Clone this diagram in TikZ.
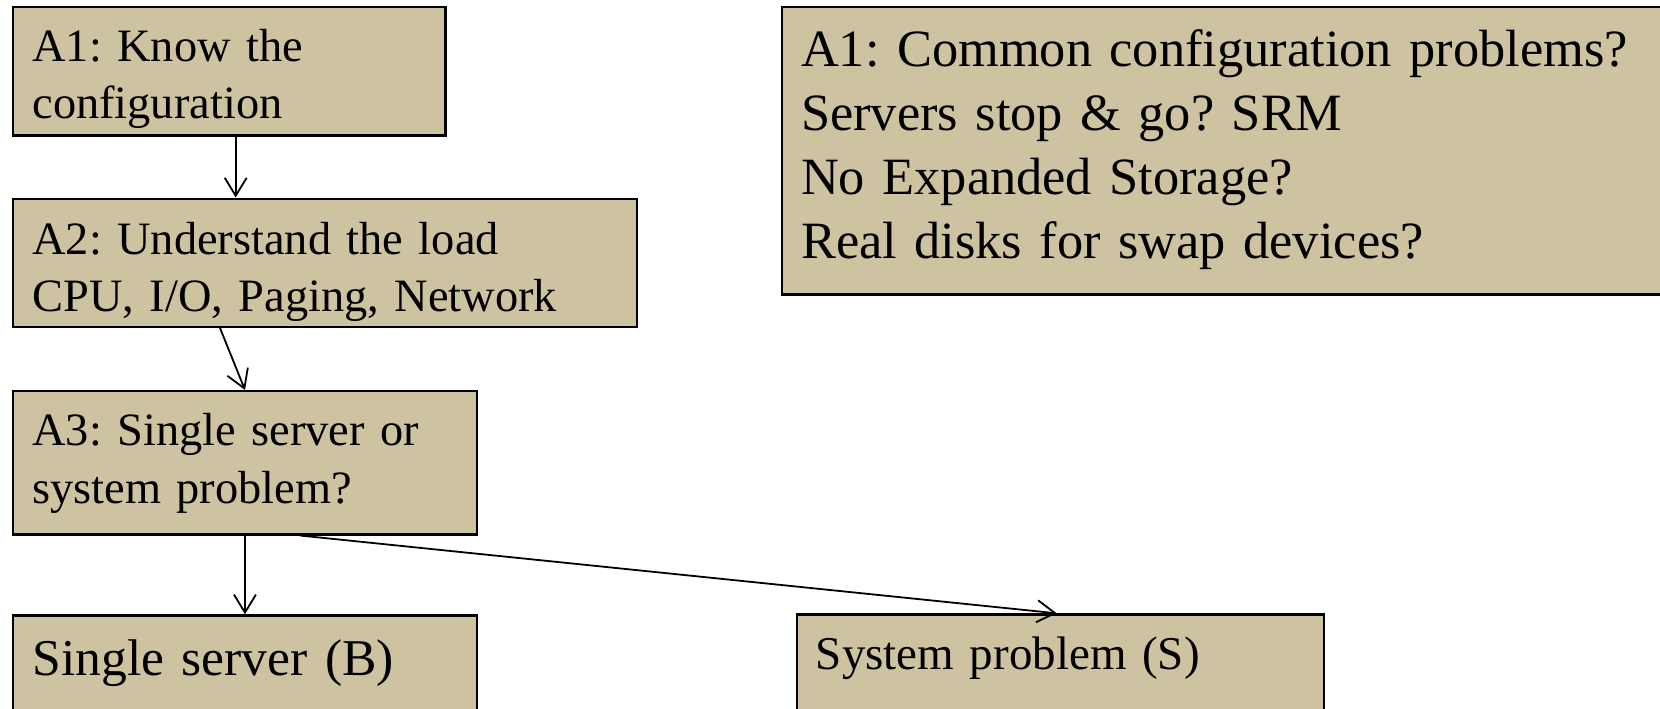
\documentclass[tikz,border=0pt]{standalone}
\usepackage{fontspec}
\setmainfont{Liberation Serif}
\usetikzlibrary{arrows.meta,calc}
\definecolor{tanfill}{RGB}{205,195,161}
\frenchspacing
\tikzset{
  box/.style={draw=black, line width=1.1pt, fill=tanfill, rectangle, inner sep=0pt, anchor=north west},
  txt/.style={inner sep=0pt, anchor=base west, align=left, text width=#1},
  arr/.style={draw=black, line width=0.9pt, -{Straight Barb[length=9pt,width=11pt]}},
}
\begin{document}
\frenchspacing
\begin{tikzpicture}[x=0.5pt,y=-0.5pt]
\useasboundingbox (0,0) rectangle (1660,708);
% boxes
\node[box, minimum width=432.6*0.5pt, minimum height=128.6*0.5pt] (a1) at (11.7,5.7) {};
\node[box, minimum width=623.9*0.5pt, minimum height=128.3*0.5pt] (a2) at (11.7,197.5) {};
\node[box, minimum width=464.3*0.5pt, minimum height=143.3*0.5pt] (a3) at (11.7,390) {};
\node[box, minimum width=464.3*0.5pt, minimum height=130*0.5pt] (b) at (11.7,614.3) {};
\node[box, minimum width=527.2*0.5pt, minimum height=130*0.5pt] (s) at (795.7,613.3) {};
\node[box, minimum width=900*0.5pt, minimum height=287.6*0.5pt] (r) at (781,5.7) {};
% texts
\node[txt=400pt, font=\fontsize{23.2pt}{28.3pt}\selectfont] (t1) at (32,61.7) {A1: Know the\\configuration};
\node[txt=400pt, font=\fontsize{23.2pt}{28.85pt}\selectfont] (t2) at (32,254) {A2: Understand the load\\CPU, I/O, Paging, Network};
\node[txt=400pt, font=\fontsize{23.2pt}{29pt}\selectfont] (t3) at (32,445) {A3: Single server or\\system problem?};
\node[txt=400pt, font=\fontsize{25.8pt}{32pt}\selectfont] (tb) at (32.3,675) {Single server (B)};
\node[txt=400pt, font=\fontsize{23.5pt}{28pt}\selectfont] (ts) at (815.5,669.3) {System problem (S)};
\node[txt=500pt, font=\fontsize{26.2pt}{32pt}\selectfont] (tr) at (800.7,66.5) {A1: Common configuration problems?\\Servers stop \& go? SRM\\No Expanded Storage?\\Real disks for swap devices?};
% connectors
\draw[arr] ($(a1.south west)+(224,0)$) -- ($(a2.north west)+(224,0)$);
\draw[arr] ($(a2.south west)+(208.3,0)$) -- ($(a3.north west)+(233.3,0)$);
\draw[arr] (a3.south) -- (b.north);
\draw[arr] ($(a3.south west)+(288.3,0)$) -- ($(s.north west)+(261,0)$);
\end{tikzpicture}
\end{document}
